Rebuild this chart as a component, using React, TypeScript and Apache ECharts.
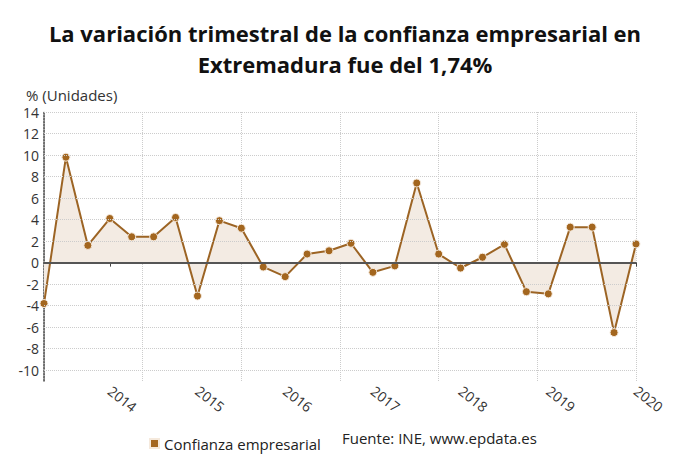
import React, { useEffect, useRef } from "react";
import * as echarts from "echarts";

const quarters = [
  "2013 T2", "2013 T3", "2013 T4",
  "2014 T1", "2014 T2", "2014 T3", "2014 T4",
  "2015 T1", "2015 T2", "2015 T3", "2015 T4",
  "2016 T1", "2016 T2", "2016 T3", "2016 T4",
  "2017 T1", "2017 T2", "2017 T3", "2017 T4",
  "2018 T1", "2018 T2", "2018 T3", "2018 T4",
  "2019 T1", "2019 T2", "2019 T3", "2019 T4",
  "2020 T1",
];
const confianza = [
  -3.8, 9.8, 1.6,
  4.1, 2.4, 2.4, 4.2,
  -3.1, 3.9, 3.2, -0.4,
  -1.3, 0.8, 1.1, 1.8,
  -0.9, -0.3, 7.4, 0.8,
  -0.5, 0.5, 1.7, -2.7,
  -2.9, 3.3, 3.3, -6.5,
  1.74,
];
const yGridValues = [-10, -8, -6, -4, -2, 2, 4, 6, 8, 10, 12, 14];
const titleText = "La variación trimestral de la confianza empresarial en\nExtremadura fue del 1,74%";
const unitText = "% (Unidades)";
const sourceText = "Fuente: INE, www.epdata.es";
const seriesName = "Confianza empresarial";

const FONT = "'Open Sans', 'Noto Sans', sans-serif";

export default function App() {
  const ref = useRef<HTMLDivElement>(null);
  useEffect(() => {
    if (!ref.current) return;
    const chart = echarts.init(ref.current, null, { renderer: "svg" });
    const isLabel = (i: number) => i % 4 === 3;
    chart.setOption({
      animation: false,
      backgroundColor: "#ffffff",
      textStyle: { fontFamily: FONT },
      title: {
        text: titleText,
        left: "center",
        top: 12,
        textStyle: {
          fontFamily: FONT,
          fontSize: 22,
          fontWeight: "bold",
          color: "#111111",
          lineHeight: 31,
        },
      },
      legend: {
        data: [{ name: seriesName, icon: "rect" }],
        left: 144,
        top: 431,
        itemWidth: 9,
        itemHeight: 9,
        itemGap: 5,
        textStyle: { fontFamily: FONT, fontSize: 15, color: "#222222" },
      },
      graphic: [
        {
          type: "text",
          left: 26,
          top: 87,
          style: { text: unitText, fontFamily: FONT, fontSize: 15, fill: "#333333" },
        },
        {
          type: "text",
          left: 342,
          top: 430,
          style: { text: sourceText, fontFamily: FONT, fontSize: 15, fill: "#222222" },
        },
      ],
      grid: { left: 44, right: 54, top: 112, bottom: 84 },
      xAxis: [
        {
          type: "category",
          data: quarters,
          boundaryGap: false,
          axisLine: { lineStyle: { color: "#444444", width: 1.5 } },
          axisTick: { interval: (i: number) => isLabel(i), length: 4, lineStyle: { color: "#444444" } },
          axisLabel: {
            interval: (i: number) => isLabel(i),
            formatter: (v: string) => v.slice(0, 4),
            rotate: -38,
            fontSize: 14,
            color: "#333333",
            margin: 8,
            fontFamily: FONT,
          },
          splitLine: { show: false },
        },
        {
          type: "value",
          min: 0,
          max: quarters.length - 1,
          interval: (quarters.length - 1) / 6,
          position: "bottom",
          axisLine: { show: false },
          axisTick: { show: false },
          axisLabel: { show: false },
          splitLine: { show: true, lineStyle: { color: "#cccccc", type: "dotted", width: 1 } },
        },
      ],
      yAxis: {
        type: "value",
        min: -11,
        max: 14,
        interval: 1,
        axisLine: { show: true, lineStyle: { color: "#444444", type: "dotted", width: 1.5 } },
        axisTick: { show: false },
        axisLabel: {
          formatter: (v: number) => (v % 2 === 0 ? String(v) : ""),
          fontSize: 14,
          color: "#333333",
          margin: 5,
          fontFamily: FONT,
        },
        splitLine: { show: false },
      },
      series: [
        {
          name: seriesName,
          type: "line",
          data: confianza,
          xAxisIndex: 0,
          symbol: "circle",
          symbolSize: 8,
          itemStyle: { color: "#a3661f", borderColor: "#f5e9dc", borderWidth: 1 },
          lineStyle: { color: "#9c6424", width: 2 },
          areaStyle: { color: "#f3ebe3", origin: "auto", opacity: 1 },
          markLine: {
            silent: true,
            symbol: "none",
            label: { show: false },
            data: [
              ...yGridValues.map((v) => ({
                yAxis: v,
                lineStyle: { color: "#cccccc", type: "dotted", width: 1 },
              })),
              { yAxis: 0, lineStyle: { color: "#555555", type: "solid", width: 2 } },
            ],
          },
          z: 3,
        },
      ],
    });
    return () => chart.dispose();
  }, []);
  return (
    <div
      ref={ref}
      style={{ position: "fixed", left: 0, top: 0, width: 690, height: 465 }}
    />
  );
}
